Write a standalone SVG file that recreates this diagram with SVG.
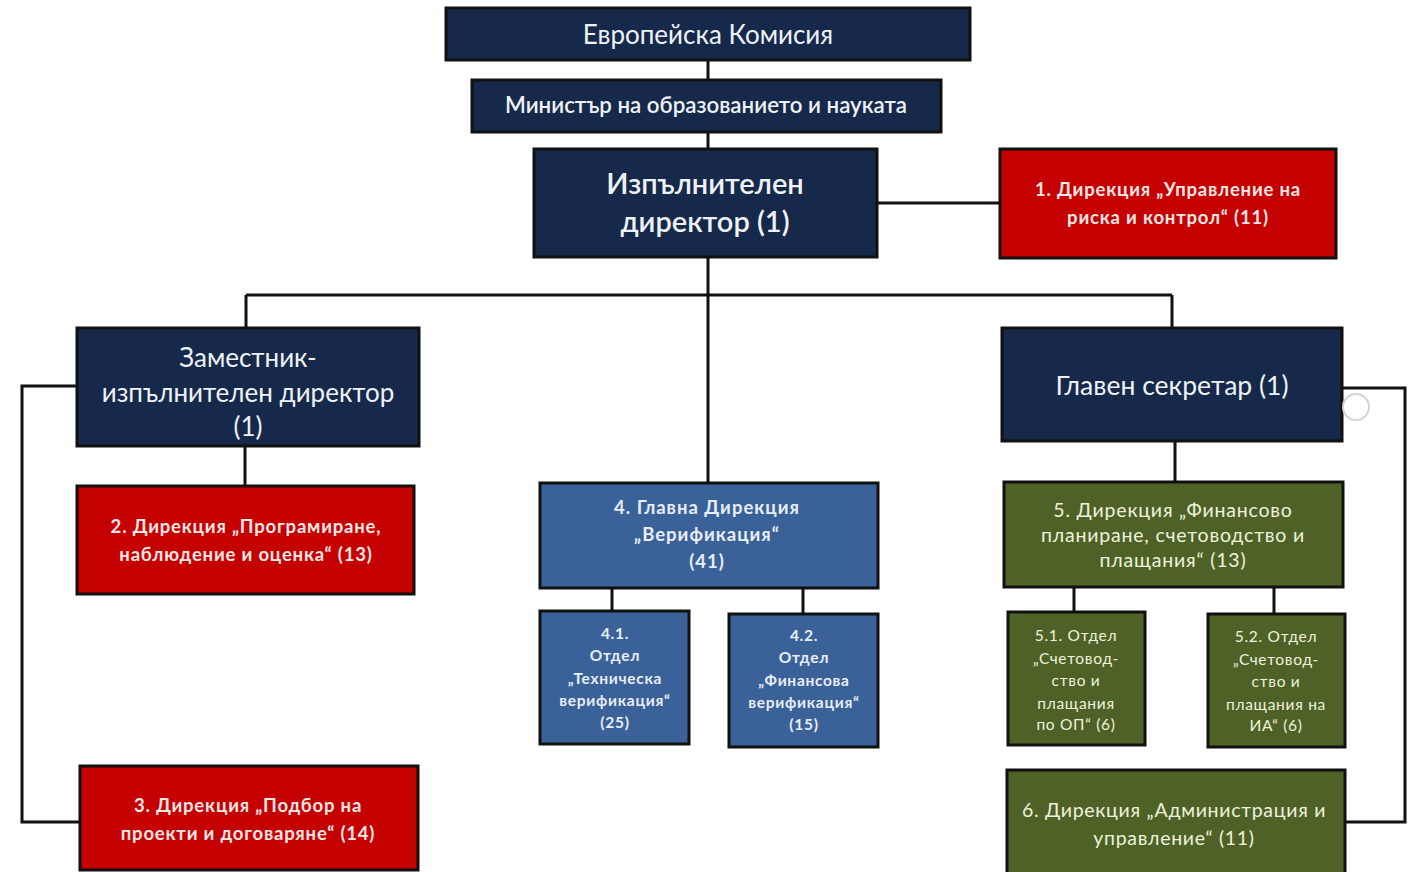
<svg xmlns="http://www.w3.org/2000/svg" width="1409" height="872" viewBox="0 0 1409 872">
<style>
.box{stroke:#111;stroke-width:3}
.navy{fill:#16294a}
.red{fill:#c40000}
.blue{fill:#3a6198}
.green{fill:#4e6227}
.t{font-family:Lato,"Open Sans","Noto Sans",sans-serif;text-anchor:middle;fill:#eef2f7}
.rt{font-family:Lato,"Open Sans","Noto Sans",sans-serif;text-anchor:middle;fill:#ffe6e6;font-weight:bold;font-size:18.5px;letter-spacing:0.8px}
.gt{font-family:Lato,"Open Sans","Noto Sans",sans-serif;text-anchor:middle;fill:#eef2dc}
.bt{font-family:Lato,"Open Sans","Noto Sans",sans-serif;text-anchor:middle;fill:#e8eef8;font-weight:bold}
.s{font-size:15.5px;letter-spacing:0.7px}
.c{fill:none;stroke:#111;stroke-width:3}
</style>
<rect width="1409" height="872" fill="#ffffff"/>
<g id="connectors">
<path class="c" d="M708 60V80M708 132V149M708 257V483M246 295H1172M246 295V328M1172 295V328"/>
<path class="c" d="M877 203H1000"/>
<path class="c" d="M245 446V486M77 386H22V822H80"/>
<path class="c" d="M612 588V611M803 588V614"/>
<path class="c" d="M1175 441V482M1342 388H1405V822H1345"/>
<path class="c" d="M1074 587V612M1274 587V614"/>
</g>
<g id="n-ec"><rect class="box navy" x="446" y="8" width="524" height="52"/><text class="t" x="708" y="44" font-size="26">Европейска Комисия</text></g>
<g id="n-min"><rect class="box navy" x="472" y="80" width="469" height="52"/><text class="t" x="706" y="113" font-size="22.3" font-weight="600">Министър на образованието и науката</text></g>
<g id="n-ed"><rect class="box navy" x="534" y="149" width="343" height="108"/><text class="t" x="705" y="194" font-size="29" font-weight="600">Изпълнителен</text><text class="t" x="705" y="232" font-size="29" font-weight="600">директор (1)</text></g>
<g id="n-d1"><rect class="box red" x="1000" y="149" width="336" height="109"/><text class="rt" x="1168" y="196">1. Дирекция „Управление на</text><text class="rt" x="1168" y="224">риска и контрол“ (11)</text></g>
<g id="n-zam"><rect class="box navy" x="77" y="328" width="342" height="118"/><text class="t" x="248" y="367" font-size="26">Заместник-</text><text class="t" x="248" y="402" font-size="26">изпълнителен директор</text><text class="t" x="248" y="436" font-size="26">(1)</text></g>
<g id="n-gs"><rect class="box navy" x="1002" y="328" width="340" height="113"/><text class="t" x="1172" y="395" font-size="26.5">Главен секретар (1)</text></g>
<circle cx="1356" cy="407" r="13" fill="none" stroke="#d4d4d4" stroke-width="2"/>
<g id="n-d2"><rect class="box red" x="77" y="486" width="337" height="108"/><text class="rt" x="246" y="533">2. Дирекция „Програмиране,</text><text class="rt" x="246" y="561">наблюдение и оценка“ (13)</text></g>
<g id="n-d4"><rect class="box blue" x="540" y="483" width="338" height="105"/><text class="bt" x="707" y="514" font-size="18.5" letter-spacing="1">4. Главна Дирекция</text><text class="bt" x="707" y="541" font-size="18.5" letter-spacing="1">„Верификация“</text><text class="bt" x="707" y="568" font-size="18.5" letter-spacing="1">(41)</text></g>
<g id="n-d41"><rect class="box blue" x="540" y="611" width="149" height="133"/><text class="bt s" x="615" y="639">4.1.</text><text class="bt s" x="615" y="661">Отдел</text><text class="bt s" x="615" y="684">„Техническа</text><text class="bt s" x="615" y="706">верификация“</text><text class="bt s" x="615" y="728">(25)</text></g>
<g id="n-d42"><rect class="box blue" x="729" y="614" width="149" height="133"/><text class="bt s" x="804" y="641">4.2.</text><text class="bt s" x="804" y="663">Отдел</text><text class="bt s" x="804" y="686">„Финансова</text><text class="bt s" x="804" y="708">верификация“</text><text class="bt s" x="804" y="730">(15)</text></g>
<g id="n-d5"><rect class="box green" x="1004" y="482" width="339" height="105"/><text class="gt" x="1173" y="517" font-size="19.5" letter-spacing="0.8">5. Дирекция „Финансово</text><text class="gt" x="1173" y="542" font-size="19.5" letter-spacing="0.8">планиране, счетоводство и</text><text class="gt" x="1173" y="567" font-size="19.5" letter-spacing="0.8">плащания“ (13)</text></g>
<g id="n-d51"><rect class="box green" x="1008" y="612" width="137" height="133"/><text class="gt s" x="1076" y="641">5.1. Отдел</text><text class="gt s" x="1076" y="664">„Счетовод-</text><text class="gt s" x="1076" y="686">ство и</text><text class="gt s" x="1076" y="709">плащания</text><text class="gt s" x="1076" y="730">по ОП“ (6)</text></g>
<g id="n-d52"><rect class="box green" x="1208" y="614" width="137" height="133"/><text class="gt s" x="1276" y="642">5.2. Отдел</text><text class="gt s" x="1276" y="665">„Счетовод-</text><text class="gt s" x="1276" y="687">ство и</text><text class="gt s" x="1276" y="710">плащания на</text><text class="gt s" x="1276" y="731">ИА“ (6)</text></g>
<g id="n-d3"><rect class="box red" x="80" y="766" width="338" height="104"/><text class="rt" x="248" y="812">3. Дирекция „Подбор на</text><text class="rt" x="248" y="840">проекти и договаряне“ (14)</text></g>
<g id="n-d6"><rect class="box green" x="1007" y="770" width="338" height="104"/><text class="gt" x="1174" y="817" font-size="19.5" letter-spacing="0.7">6. Дирекция „Администрация и</text><text class="gt" x="1174" y="845" font-size="19.5" letter-spacing="0.7">управление“ (11)</text></g>
</svg>
